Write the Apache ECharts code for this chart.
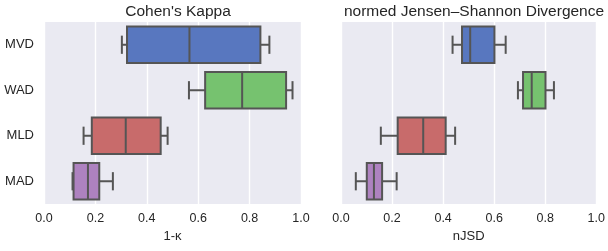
<html>
    <head>
        <meta charset="utf-8">
        <script src="https://cdn.jsdelivr.net/npm/echarts@6/dist/echarts.min.js"></script>
        <style>
            html, body { margin: 0; padding: 0; background: #fff; }
            #main { width: 608px; height: 251px; }
        </style>
    </head>
    <body>
        <div id="main"></div>
        <script>
            // categories, top to bottom
            var methods = ['MVD', 'WAD', 'MLD', 'MAD'];
            var xTicks = [0, 0.2, 0.4, 0.6, 0.8, 1.0];

            // [whisker low, Q1, median, Q3, whisker high]
            var kappa = [
                [0.303, 0.323, 0.566, 0.842, 0.877],
                [0.564, 0.627, 0.771, 0.942, 0.967],
                [0.154, 0.186, 0.318, 0.454, 0.481],
                [0.111, 0.115, 0.171, 0.215, 0.268]
            ];
            var njsd = [
                [0.437, 0.474, 0.506, 0.601, 0.645],
                [0.693, 0.713, 0.747, 0.801, 0.834],
                [0.156, 0.222, 0.322, 0.410, 0.447],
                [0.058, 0.101, 0.129, 0.161, 0.218]
            ];

            var boxColors = ['#5877bf', '#76c26f', '#c86b6b', '#ae82c0'];
            var edge = '#555555';
            var textColor = '#262626';
            var font = '"Liberation Sans", Arial, sans-serif';

            function rows(stats) {
                return stats.map(function (s, i) {
                    return [i].concat(s);
                });
            }

            function renderBox(params, api) {
                var cat = api.value(0);
                var yc = api.coord([0, cat])[1];
                var band = api.size([0, 1])[1];
                var h = band * 0.4;
                var c = band * 0.2;
                var x = function (k) { return api.coord([api.value(k), cat])[0]; };
                var lo = x(1), q1 = x(2), md = x(3), q3 = x(4), hi = x(5);
                var line = { stroke: edge, lineWidth: 2 };
                return {
                    type: 'group',
                    children: [
                        { type: 'line', shape: { x1: lo, y1: yc, x2: q1, y2: yc }, style: line },
                        { type: 'line', shape: { x1: q3, y1: yc, x2: hi, y2: yc }, style: line },
                        { type: 'line', shape: { x1: lo, y1: yc - c, x2: lo, y2: yc + c }, style: line },
                        { type: 'line', shape: { x1: hi, y1: yc - c, x2: hi, y2: yc + c }, style: line },
                        { type: 'rect', shape: { x: q1, y: yc - h, width: q3 - q1, height: 2 * h },
                          style: { fill: boxColors[cat], stroke: edge, lineWidth: 2 } },
                        { type: 'line', shape: { x1: md, y1: yc - h, x2: md, y2: yc + h }, style: line }
                    ]
                };
            }

            function xAxisFor(idx, name) {
                return {
                    gridIndex: idx,
                    type: 'value',
                    min: xTicks[0],
                    max: xTicks[xTicks.length - 1],
                    interval: 0.2,
                    name: name,
                    nameLocation: 'middle',
                    nameGap: 26,
                    nameTextStyle: { color: textColor, fontSize: 13, fontFamily: font },
                    axisLine: { show: false },
                    axisTick: { show: false },
                    axisLabel: {
                        color: textColor, fontSize: 12.5, fontFamily: font, margin: 8,
                        formatter: function (v) { return v.toFixed(1); }
                    },
                    splitLine: { show: true, lineStyle: { color: '#ffffff', width: 1.4 } }
                };
            }

            function yAxisFor(idx, showLabels) {
                return {
                    gridIndex: idx,
                    type: 'category',
                    data: methods,
                    inverse: true,
                    axisLine: { show: false },
                    axisTick: { show: false },
                    splitLine: { show: false },
                    axisLabel: { show: showLabels, color: textColor, fontSize: 13, fontFamily: font, margin: 10 }
                };
            }

            var chart = echarts.init(document.getElementById('main'), null, { renderer: 'canvas' });

            chart.setOption({
                animation: false,
                title: [
                    { text: "Cohen's Kappa", left: 173, top: -1, textAlign: 'center',
                      textStyle: { color: textColor, fontSize: 15.5, fontWeight: 'normal', fontFamily: font } },
                    { text: 'normed Jensen\u2013Shannon Divergence', left: 469, top: -1, textAlign: 'center',
                      textStyle: { color: textColor, fontSize: 15.5, fontWeight: 'normal', fontFamily: font } }
                ],
                grid: [
                    { left: 44, top: 22, width: 257, height: 182, show: true,
                      backgroundColor: '#eaeaf2', borderWidth: 0 },
                    { left: 341, top: 22, width: 257, height: 182, show: true,
                      backgroundColor: '#eaeaf2', borderWidth: 0 }
                ],
                xAxis: [xAxisFor(0, '1-\u03ba'), xAxisFor(1, 'nJSD')],
                yAxis: [yAxisFor(0, true), yAxisFor(1, false)],
                series: [
                    { type: 'custom', xAxisIndex: 0, yAxisIndex: 0, renderItem: renderBox,
                      encode: { x: [1, 2, 3, 4, 5], y: 0 }, data: rows(kappa) },
                    { type: 'custom', xAxisIndex: 1, yAxisIndex: 1, renderItem: renderBox,
                      encode: { x: [1, 2, 3, 4, 5], y: 0 }, data: rows(njsd) }
                ]
            });
        </script>
    </body>
</html>
